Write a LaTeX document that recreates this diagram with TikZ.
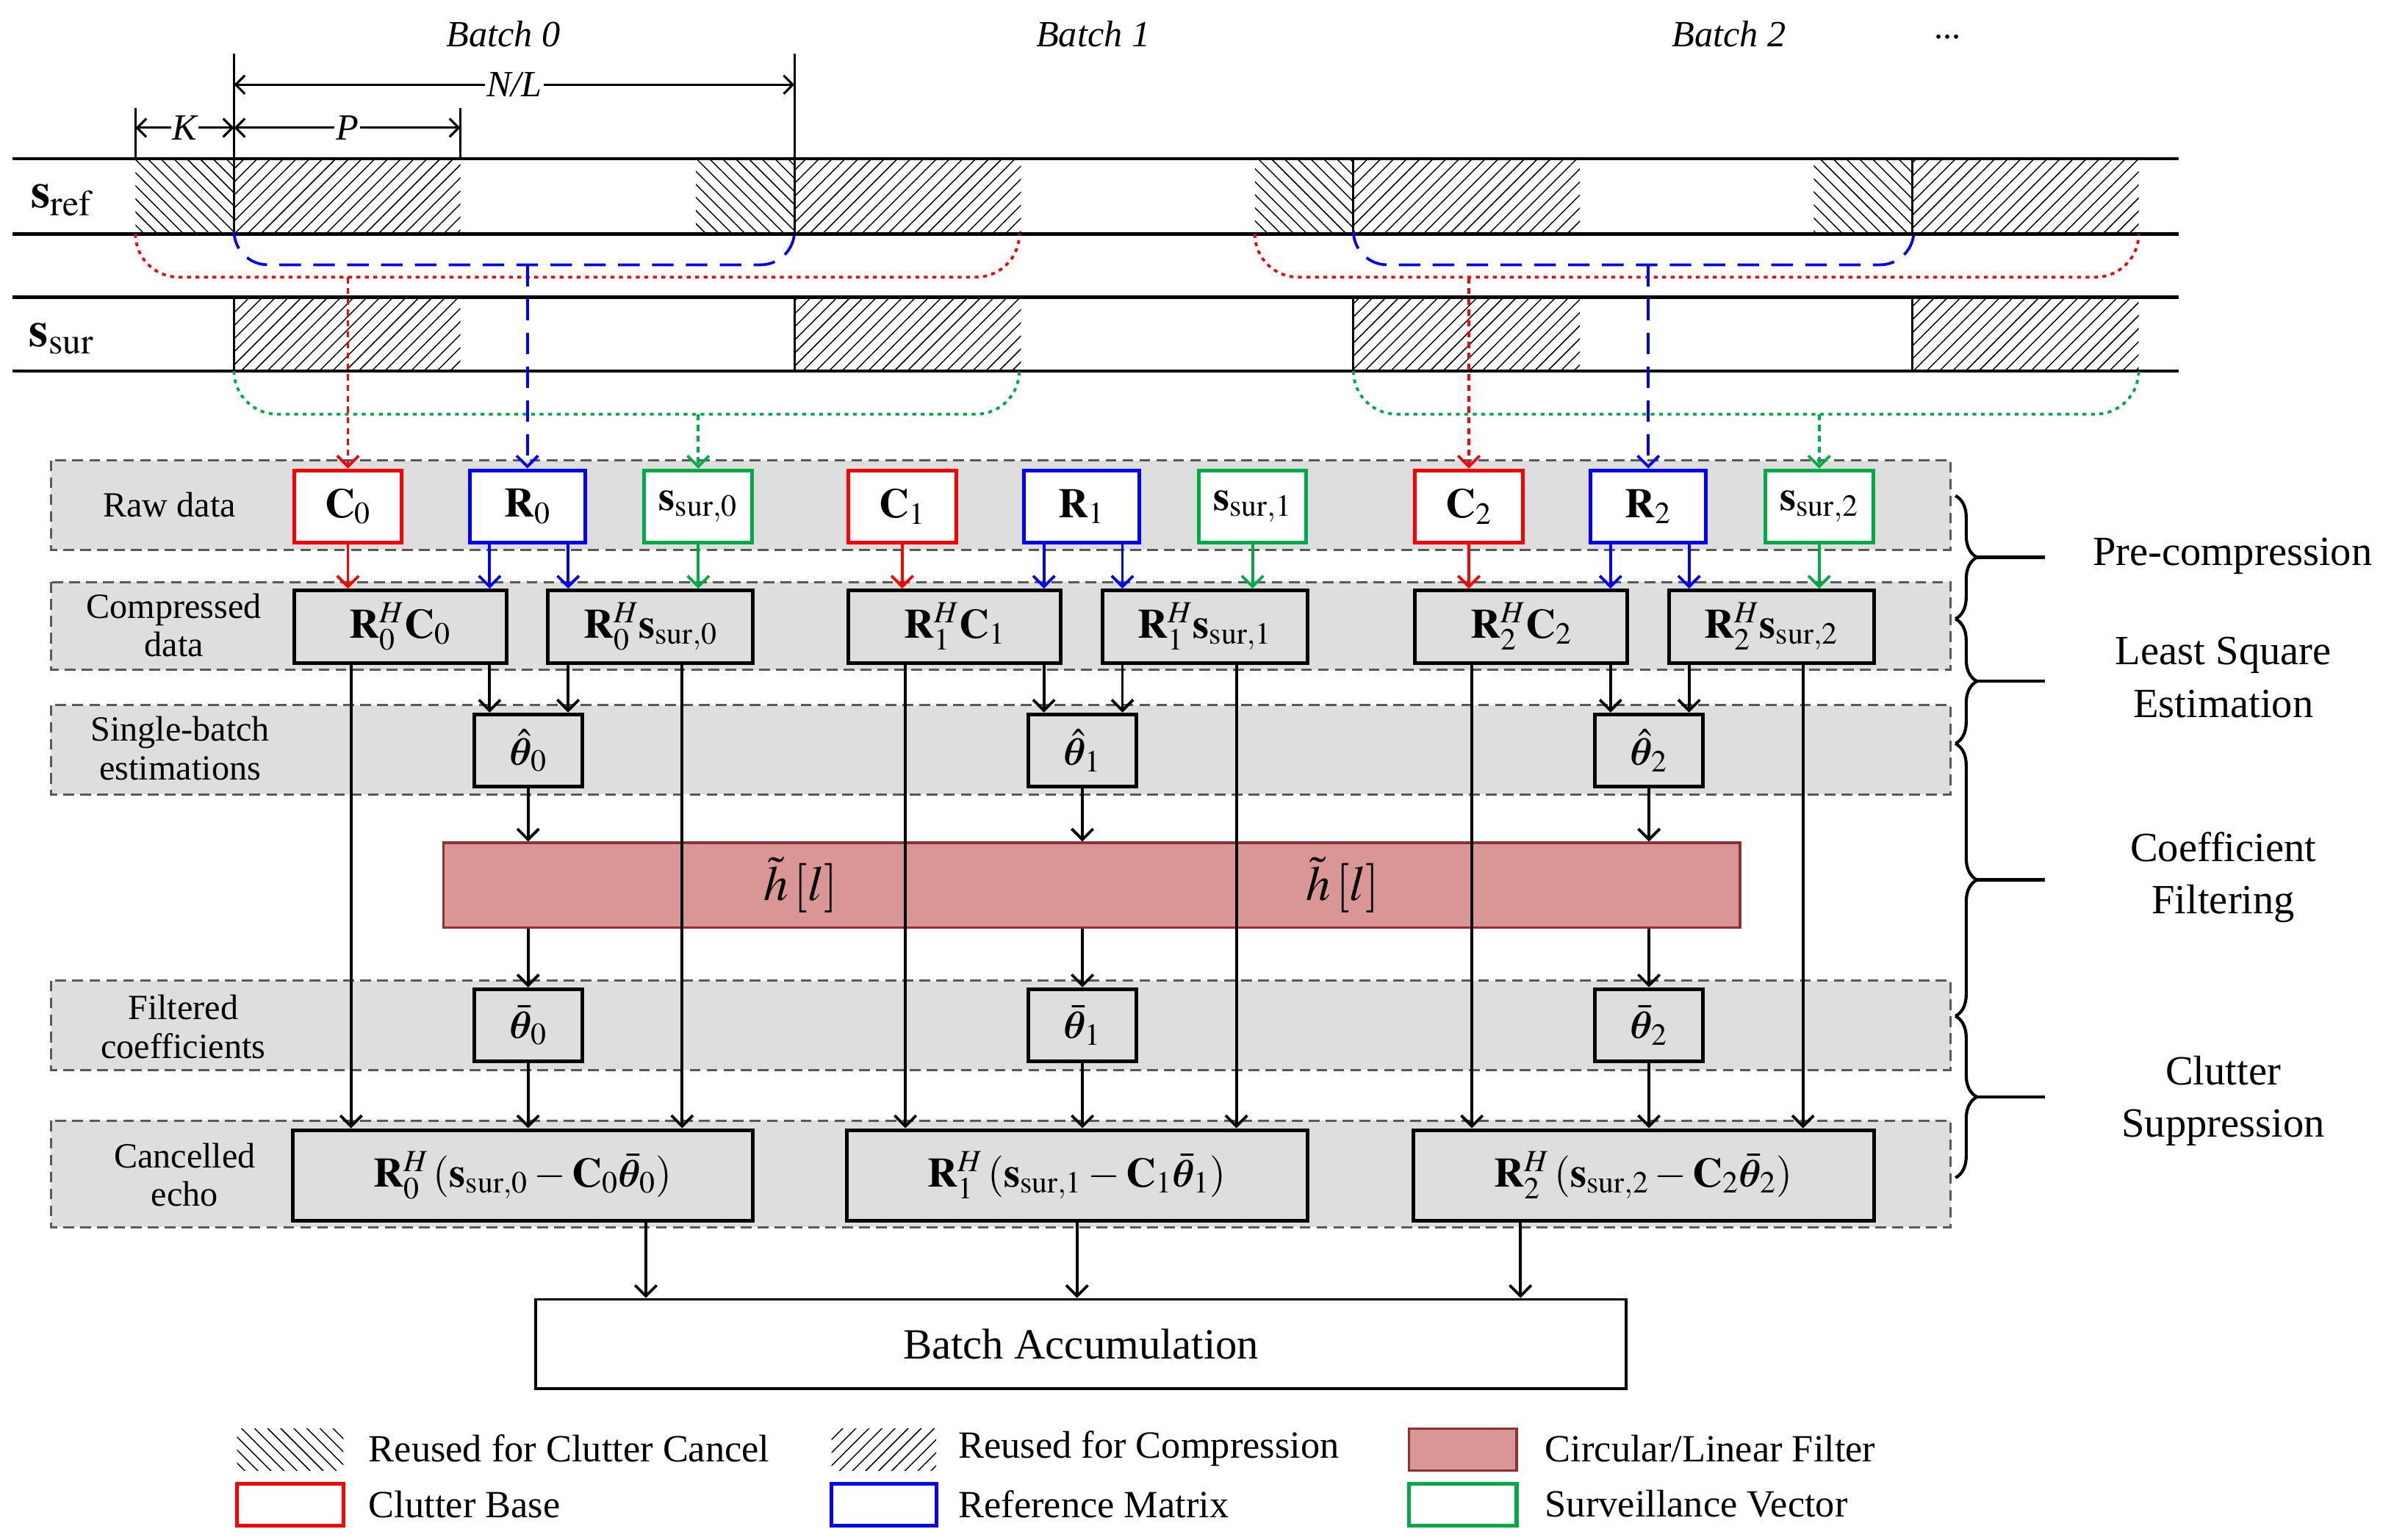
\documentclass[tikz,border=0pt]{standalone}
\usepackage{amsmath,bm}
\usepackage{mathptmx}
\usepackage{fontspec}
\setmainfont{Liberation Serif}
\usetikzlibrary{arrows.meta,patterns.meta,decorations.pathreplacing,calc}
\definecolor{filt}{RGB}{217,150,148}
\definecolor{filtb}{RGB}{140,50,48}
\definecolor{grn}{RGB}{0,170,70}
\begin{document}
\begin{tikzpicture}[x=1pt,y=-1pt,
  every node/.style={font=\fontsize{23}{26}\selectfont},
  band/.style={fill=black!13,draw=black!65,dashed,line width=1.4pt,dash pattern=on 7pt off 4pt},
  raw/.style={draw,line width=2.4pt,minimum width=70pt,minimum height=47pt,inner sep=0pt,font=\fontsize{27}{30}\selectfont},
  bx/.style={draw,line width=2.4pt,minimum height=47pt,inner sep=0pt,font=\fontsize{27}{30}\selectfont},
  ar/.style={-{Straight Barb[length=7pt,width=14pt]},line width=1.8pt},
  sig/.style={line width=2pt},
  hf/.style={pattern={Lines[angle=45,distance=6pt,line width=0.7pt]}},
  hb/.style={pattern={Lines[angle=-45,distance=6pt,line width=0.7pt]}},
  br/.style={decorate,decoration={brace,amplitude=14pt},line width=2pt}]
\useasboundingbox (0,0) rectangle (1562,1000);
% headers
\foreach \t/\x in {Batch 0/327,Batch 1/710,Batch 2/1123}
  \node[font=\fontsize{24}{26}\selectfont\itshape] (h\x) at (\x,22) {\t};
\node (dots) at (1265,24) {...};
\coordinate (k0) at (88,70); \coordinate (k1) at (152,35); \coordinate (k2) at (299,70); \coordinate (k3) at (516,35);
\foreach \c in {k0,k1,k2,k3} \draw[line width=1.5pt] (\c) -- (\c |- 0,103);
\draw[{Straight Barb[length=6pt,width=12pt]}-{Straight Barb[length=6pt,width=12pt]},line width=1.5pt] (k1 |- 0,55) -- node[fill=white,inner sep=1pt,font=\fontsize{24}{26}\selectfont\itshape]{N/L} (k3 |- 0,55);
\draw[{Straight Barb[length=6pt,width=12pt]}-{Straight Barb[length=6pt,width=12pt]},line width=1.5pt] (k0 |- 0,83) -- node[fill=white,inner sep=1pt,font=\fontsize{24}{26}\selectfont\itshape]{K} (k1 |- 0,83);
\draw[{Straight Barb[length=6pt,width=12pt]}-{Straight Barb[length=6pt,width=12pt]},line width=1.5pt] (k1 |- 0,83) -- node[fill=white,inner sep=1pt,font=\fontsize{24}{26}\selectfont\itshape]{P} (k2 |- 0,83);
% hatches
\foreach \a/\b in {88/152,452/516,815/879,1178/1242} \path[hb] (\a,103) rectangle (\b,152);
\foreach \a in {152,516,879,1242} {
  \path[hf] (\a,103) rectangle (\a+147,152);
  \path[hf] (\a,193) rectangle (\a+147,241);
  \draw[line width=1.5pt] (\a,103) -- (\a,152) (\a,193) -- (\a,241);}
\foreach \y in {103,152,193,241} \draw[sig] (8,\y) -- (1415,\y);
\node[font=\fontsize{32}{34}\selectfont] (sref) at (40,130) {$\mathbf{s}_{\mathrm{ref}}$};
\node[font=\fontsize{32}{34}\selectfont] (ssur) at (40,220) {$\mathbf{s}_{\mathrm{sur}}$};
% bands
\foreach \a/\b in {299/357,378/435,458/516,637/695,728/797} \path[band] (33,\a) rectangle (1267,\b);
\node[align=center] (l1) at (110,328) {Raw data};
\node[align=center] (l2) at (113,406) {Compressed\\[-1pt]data};
\node[align=center] (l3) at (117,486) {Single-batch\\[-1pt]estimations};
\node[align=center] (l4) at (119,667) {Filtered\\[-1pt]coefficients};
\node[align=center] (l5) at (120,763) {Cancelled\\[-1pt]echo};
% filter
\node[draw=filtb,fill=filt,line width=1.8pt,minimum width=842pt,minimum height=55pt,inner sep=0] (F) at (709,575) {};
\node (f1) at (520,575) {\fontsize{32}{34}\selectfont$\tilde{h}\left[l\right]$};
\node (f2) at (872,575) {\fontsize{32}{34}\selectfont$\tilde{h}\left[l\right]$};
% batches
\foreach \b/\o in {0/0,1/360,2/728} {
  \node[raw,draw=red,fill=white] (C\b) at (226+\o,329) {$\mathbf{C}_{\b}$};
  \node[raw,draw=blue,fill=white,minimum width=75pt] (R\b) at (342.5+\o,329) {$\mathbf{R}_{\b}$};
  \node[raw,draw=grn,fill=white] (S\b) at (453.5+\o,329) {$\mathbf{s}_{\mathrm{sur},\b}$};
  \node[bx,fill=black!13,minimum width=138pt] (RC\b) at (260+\o,407) {$\mathbf{R}_{\b}^{H}\mathbf{C}_{\b}$};
  \node[bx,fill=black!13,minimum width=133pt] (RS\b) at (422.5+\o,407) {$\mathbf{R}_{\b}^{H}\mathbf{s}_{\mathrm{sur},\b}$};
  \node[bx,fill=black!13,minimum width=70pt] (T\b) at (343+\o,487.5) {$\hat{\bm{\theta}}_{\b}$};
  \node[bx,fill=black!13,minimum width=70pt] (B\b) at (343+\o,666) {$\bar{\bm{\theta}}_{\b}$};
  \node[bx,fill=black!13,minimum width=299pt,minimum height=59pt] (E\b) at (339.5+\o,763.5) {$\mathbf{R}_{\b}^{H}\left(\mathbf{s}_{\mathrm{sur},\b}-\mathbf{C}_{\b}\bar{\bm{\theta}}_{\b}\right)$};
  \coordinate (xa\b) at (318+\o,0); \coordinate (xb\b) at (369+\o,0);
  \coordinate (xc\b) at (228+\o,0); \coordinate (xd\b) at (443+\o,0);
  \draw[ar,red] (C\b) -- (C\b.south |- RC\b.north);
  \draw[ar,grn] (S\b.south) -- (S\b.south |- RS\b.north);
  \draw[ar,blue] (xa\b |- R\b.south) -- (xa\b |- RC\b.north);
  \draw[ar,blue] (xb\b |- R\b.south) -- (xb\b |- RS\b.north);
  \draw[ar] (xa\b |- RC\b.south) -- (xa\b |- T\b.north);
  \draw[ar] (xb\b |- RS\b.south) -- (xb\b |- T\b.north);
  \draw[ar] (xc\b |- RC\b.south) -- (xc\b |- E\b.north);
  \draw[ar] (xd\b |- RS\b.south) -- (xd\b |- E\b.north);
  \draw[ar] (T\b) -- (T\b |- F.north);
  \draw[ar] (T\b |- F.south) -- (B\b);
  \draw[ar] (B\b) -- (B\b |- E\b.north);
}
% signal brackets
\foreach \b/\s in {0/88,2/815} {
  \draw[red,line width=1.8pt,dash pattern=on 2.5pt off 3pt,rounded corners=28pt] (\s,152) -- (\s,180) -- (\s+574,180) -- (\s+574,152);
  \draw[blue,line width=1.8pt,dash pattern=on 14pt off 8pt,rounded corners=22pt] (\s+64,152) -- (\s+64,172) -- (\s+428,172) -- (\s+428,152);
  \draw[grn,line width=1.8pt,dash pattern=on 2.5pt off 3pt,rounded corners=28pt] (\s+64,241) -- (\s+64,269) -- (\s+574,269) -- (\s+574,241);
  \coordinate (rc\b) at (C\b |- 0,180); \coordinate (bc\b) at (R\b |- 0,172); \coordinate (gc\b) at (S\b |- 0,269);
  \draw[ar,red,dash pattern=on 4pt off 3pt] (rc\b) -- (C\b);
  \draw[ar,blue,dash pattern=on 14pt off 8pt] (bc\b) -- (R\b);
  \draw[ar,grn,dash pattern=on 4pt off 3pt] (gc\b) -- (S\b);
}
% accumulation
\node[draw,line width=1.8pt,minimum width=708pt,minimum height=58pt] (BA) at (702,873) {\fontsize{28}{30}\selectfont Batch Accumulation};
\draw[ar] ([xshift=80pt]E0.south) -- ([xshift=80pt]E0.south |- BA.north);
\draw[ar] (E1.south) -- (E1.south |- BA.north);
\draw[ar] ([xshift=-80pt]E2.south) -- ([xshift=-80pt]E2.south |- BA.north);
% braces
\foreach \a/\b/\n in {322/402/p1,402/483/p2,483/660/p3,660/765/p4} {
  \draw[br] (1270,\a) -- (1270,\b);
  \coordinate (\n) at (1284,{(\a+\b)/2});
  \draw[line width=2pt] (\n) -- ++(44,0);}
\node[align=center,font=\fontsize{27}{34}\selectfont] (t1) at (1450,361) {Pre-compression};
\node[align=center,font=\fontsize{27}{34}\selectfont] (t2) at (1444,440) {Least Square\\Estimation};
\node[align=center,font=\fontsize{27}{34}\selectfont] (t3) at (1444,570) {Coefficient\\Filtering};
\node[align=center,font=\fontsize{27}{34}\selectfont] (t4) at (1444,715) {Clutter\\Suppression};
% legend
\path[hb] (154,928) rectangle (223,955); \node[anchor=west,font=\fontsize{25}{28}\selectfont] (g1) at (236,941) {Reused for Clutter Cancel};
\path[hf] (540,928) rectangle (608,955); \node[anchor=west,font=\fontsize{25}{28}\selectfont] (g2) at (619,941) {Reused for Compression};
\draw[filtb,fill=filt,line width=1.5pt] (915,928) rectangle (985,955); \node[anchor=west,font=\fontsize{25}{28}\selectfont] (g3) at (1000,941) {Circular/Linear Filter};
\draw[red,line width=2.4pt] (154,964) rectangle (223,991); \node[anchor=west,font=\fontsize{25}{28}\selectfont] (g4) at (236,977) {Clutter Base};
\draw[blue,line width=2.4pt] (540,964) rectangle (608,991); \node[anchor=west,font=\fontsize{25}{28}\selectfont] (g5) at (619,977) {Reference Matrix};
\draw[grn,line width=2.4pt] (915,964) rectangle (985,991); \node[anchor=west,font=\fontsize{25}{28}\selectfont] (g6) at (1000,977) {Surveillance Vector};
\end{tikzpicture}
\end{document}
